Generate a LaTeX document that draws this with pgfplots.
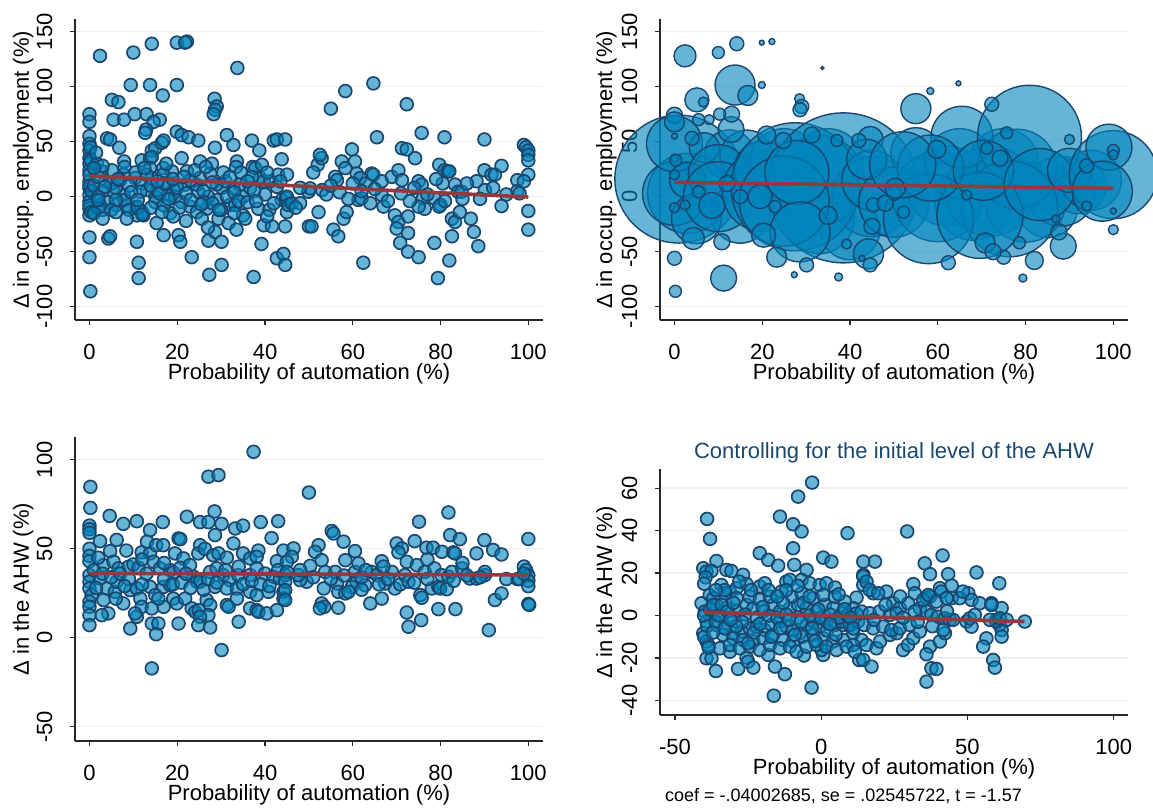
\documentclass[border=0pt]{standalone}
\usepackage{fontspec}
\setmainfont{Liberation Sans}
\usepackage{pgfplots}
\pgfplotsset{compat=1.18}

\definecolor{bubfill}{HTML}{0084BC}
\definecolor{bubedge}{HTML}{1A476F}
\definecolor{fitc}{HTML}{943A3F}
\definecolor{gridc}{HTML}{EAF1F3}
\definecolor{titc}{HTML}{1A476F}

\pgfplotsset{
  stata/.style={
    scale only axis, anchor=south west, clip=false, clip mode=individual,
    axis lines*=left,
    axis line style={line width=1.2pt, black!85},
    tick align=outside, major tick length=5pt,
    every tick/.style={line width=1.2pt, black!85},
    ymajorgrids, major grid style={line width=1.4pt, gridc},
    tick label style={font=\fontsize{22}{26}\selectfont},
    /pgf/number format/assume math mode=true,
    yticklabel style={xshift=-18pt, rotate=90, anchor=base, inner sep=0pt},
    xticklabel style={anchor=base, yshift=-34pt, inner sep=0pt},
    every axis x label/.style={at={(axis description cs:0.5,0)}, anchor=base, yshift=-59pt,
      font=\fontsize{22}{26}\selectfont},
    every axis y label/.style={at={(axis description cs:0,0.5)}, xshift=-46pt, rotate=90, anchor=base,
      font=\fontsize{22}{26}\selectfont},
  },
  dots/.style={only marks, mark=*, mark size=6.4pt,
    mark options={draw=bubedge, fill=bubfill, fill opacity=0.6, line width=1.7pt}},
  fit/.style={fitc, line width=3.6pt, no marks},
}

\begin{document}
\begin{tikzpicture}
\useasboundingbox (0,0) rectangle (1153pt,807pt);

% ---------- top left: employment vs automation
\begin{axis}[stata, at={(75pt,487pt)}, width=468pt, height=301pt,
  xmin=-3.3, xmax=103.35, ymin=-112.1, ymax=161.5,
  xtick={0,20,...,100}, ytick={-100,-50,...,150},
  xlabel={Probability of automation (\%)},
  ylabel={Δ in occup. employment (\%)}]
\addplot[dots] coordinates {
(0,75) (0,68) (0,55) (0,48) (0,42) (0,35) (0,30) (0,24) (0,14) (0,7.5) (0,1.5) (0,-4.5)
(0,-11) (0,-17) (0,-37) (0,-55) (0.2,-86) (0,20) (0,10) (0,-8) (0.3,33) (0.2,45) (0.5,5) (0.4,-14)
(1.7,30) (2.4,128) (2.8,23) (3.6,14) (2.4,-7.5) (4,53) (4.7,52) (5.1,88) (6.6,86) (5.5,70) (7.9,70)
(6.8,44.5) (7.9,32) (5.1,24) (7.8,20) (5.5,4.5) (7.8,1.5) (6.2,-7.5) (8.5,-8) (4.3,-38) (4.7,-36)
(10,131) (14.2,139) (19.9,140) (22.2,141) (21.8,140) (33.7,117) (9.4,101.5) (13.8,101.5) (19.9,101.5)
(16.7,92) (28.5,89) (29,82) (28.6,79) (28.3,75) (10.3,75) (13,75) (16,70) (14.6,68) (12.9,61) (12.7,58)
(11.9,33) (14.2,42) (15,44) (16.5,49) (16.9,51) (19.9,59) (21,56) (22.6,54) (24.8,51) (28.6,44.5)
(31.3,56) (32.8,47) (37,51) (38.7,42) (42,51) (42.7,52) (44.6,52) (43.8,34) (21,35) (25.2,32)
(27.9,30) (33.6,32) (33.4,27) (37.2,27) (37.8,26) (39.3,29) (13.8,35) (14.2,36) (13.8,26) (16.8,26)
(18.8,23) (10.4,17) (12,12) (10.8,-17) (12,-14) (15,0) (15.3,6) (18,1.5) (19.1,6) (22.2,23) (22.9,-9)
(24.5,-14) (26.7,-11) (25.6,-20) (29.4,-20) (31.7,-24) (32,-7.5) (35,-17) (35.5,-20) (38.5,-11)
(39.7,-26) (41.6,-27) (44.6,-27) (43.8,-3) (43,20) (38.9,17) (39.7,14) (41.2,14) (42.7,9) (35,0)
(36.6,8) (32.8,8) (34.3,11) (30.2,8) (29,-3) (27.1,0) (24.8,4.5) (24.4,11) (25.2,17) (27.5,21) (29,11)
(31.3,0) (33.2,-7.5) (21.8,11) (19.5,0) (18,12) (16.8,20) (14.2,17) (13.1,6) (11.6,4.5) (10.8,-9)
(12.3,-17) (18.4,-15) (19.1,-18) (15.3,-24) (16.9,-35) (20.3,-35) (20.7,-41) (23.3,-55) (27.1,-40)
(28.6,-32) (30.1,-41) (30.1,-62) (27.3,-71) (37.4,-73) (39.2,-43) (42.7,-56) (44.2,-52) (44.6,-62)
(10.8,-41) (11.2,-60) (11.2,-74) (44.8,-1.5) (45,-14) (45,20) (45,0) (45.3,-7.5)
(46.1,-6) (48,-6) (49.9,4.5) (50.3,7.5) (52.2,-14) (50,-27) (50.6,-27) (55.6,-30) (56.7,-36) (57.9,-20)
(58.6,-14) (55,80) (58.3,96) (64.7,103) (65.5,54) (72.3,84) (59.8,43) (52,29) (52.9,35) (52.5,38)
(56,18) (56.4,15) (57.5,32) (58.3,26) (60.5,32) (60.9,21) (61.7,17) (61.3,-3) (62,-1.5) (63,12)
(64.3,21) (64.7,20) (66.6,14) (67,-9) (66.6,1.5) (68.9,18) (70.4,24) (71.2,15) (69.6,-17) (70.4,-23)
(70,-29) (70.8,-42) (72.6,-50) (72.6,-33) (72.6,-18) (71.2,44) (72.3,43) (74.2,35) (75,-55) (75.7,58)
(75,14) (75.7,11) (76,-1.5) (76.4,-11) (75,-9) (78.6,-42) (79.4,-74) (79.7,29) (80.9,24) (81.6,23)
(82,23) (80.5,12) (78.6,-1.5) (80,-7.5) (79.7,-9) (80.9,54) (82.6,-20) (83.3,-23) (82.6,-36) (82,-58)
(83.3,11) (84,4.5) (84.8,4.5) (84.4,-14) (86.9,-20) (87.6,-32) (88.6,-45) (88.2,14) (90,24) (90.1,6)
(91.6,20) (92.4,20) (93.9,28) (90,52) (93.9,-8.5) (62.4,-60)
(97.5,15) (97.5,5) (99,47) (99.5,45) (100,42) (100,38) (100,33) (100,20) (100,-13) (100,-30) (98,3) (99,14)
(1,10) (2,18) (3,5) (4,-5) (2,-10) (3,-12) (5,12) (6,8) (7,15) (8,-3) (9,10) (9,-12) (1,-15) (2,0)
(3,28) (6,-3) (11,-10) (12,-16) (13,20) (14,10) (15,-5) (16,3) (17,-8) (17,12) (18,-2) (20,8) (21,-5)
(22,3) (23,15) (26,5) (26,-5) (28,-6) (30,-12) (31,14) (33,4) (34,-4) (36,-5) (37,18) (40,2) (41,-12)
(47,-10) (48,8) (51,22) (53,6) (54,2) (55,10) (57,4) (59,-2) (60,12) (62,5) (64,-6) (65,7) (68,-4)
(71,3) (73,-4) (74,8) (77,2) (79,16) (81,-4) (85,-2) (86,12) (89,-2) (92,8) (95,2)
(1,26) (1.5,40) (2,-3) (3.5,9) (5,-12) (6.5,16) (8,27) (9.5,4) (10.5,22) (11,-3) (12.5,26) (14,-10)
(15.5,14) (16.5,-14) (17.5,30) (19,16) (20.5,-10) (21.5,18) (23,-3) (24,24) (25.5,-7) (26.5,27)
(28,13) (29.5,-12) (30.5,22) (32,18) (33,-15) (34.5,22) (36,14) (37.5,5) (38,-4) (40.5,22) (42,-6)
(43.5,14) (6,-14) (3,-20) (8.5,-20) (22,-22) (27,-28) (33.5,-30) (40.5,-18)
};
\addplot[fit] coordinates {(0,18.8) (100,-0.3)};
\end{axis}

% ---------- top right: weighted
\begin{axis}[stata, at={(660pt,487pt)}, width=468pt, height=301pt,
  xmin=-3.3, xmax=103.35, ymin=-112.1, ymax=161.5,
  xtick={0,20,...,100}, ytick={-100,-50,...,150},
  every axis y label/.style={at={(axis description cs:0,0.5)}, xshift=-48pt, rotate=90, anchor=base,
    font=\fontsize{22}{26}\selectfont},
  xlabel={Probability of automation (\%)},
  ylabel={Δ in occup. employment (\%)}]
\addplot[scatter, only marks, mark=*,
  scatter/use mapped color={draw=bubedge, fill=bubfill, fill opacity=0.6},
  visualization depends on={\thisrow{r} \as \rr},
  scatter/@pre marker code/.append style={/tikz/mark size=\rr pt},
  mark options={line width=1.4pt}]
table[row sep=\\] {
x y r \\
1 16 64 \\ 3 3 40 \\ 0 3 32 \\ 0 48 28 \\ 12.5 38 25 \\ 16.5 36 27 \\ 6.8 44.5 15 \\ 3 15 18 \\
10 20 30 \\ 15 -15 30 \\ 5 -20 25 \\ 10 0 35 \\ 20 5 40 \\ 25 30 35 \\
13.8 101.5 20 \\ 2.4 128 11 \\ 14.2 139 7 \\ 10 131 6 \\ 5.1 88 12 \\ 6.6 86 5 \\
11.2 -74 13 \\ 0 -56 7 \\ 0.2 -86 6 \\ 4.3 -38 11 \\ 10.8 -41 8 \\
20 25 28 \\ 33 -20 35 \\ 35 30 35 \\ 40 -30 30 \\ 33 15 45 \\ 45 0 40 \\
27.5 9 64 \\ 38.5 8 75 \\ 25 -4 45 \\ 27.9 22 32 \\ 28.6 -32 30 \\
45 15 30 \\ 50 -5 35 \\ 55 40 25 \\ 62 10 40 \\ 68 -5 38 \\ 75 30 35 \\ 85 -10 30 \\ 92 10 28 \\
60 0 45 \\ 72 5 45 \\ 80 -5 40 \\ 88 5 35 \\ 95 15 30 \\ 65 30 35 \\ 78 25 40 \\
44.2 -52 15 \\ 44.6 52 13 \\ 43.8 34 20 \\ 37.4 -73 4 \\ 44.6 -62 7 \\ 33.7 117 1.5 \\
19.9 140 2.5 \\ 22.2 141 3 \\ 19.9 101.5 3.5 \\ 28.5 89 5 \\ 29 82 7 \\ 28.6 79 7 \\
55 80 15 \\ 58.3 96 3.5 \\ 64.7 103 2.5 \\ 65.5 54 31 \\ 80.9 54 52 \\ 76.4 -11 48 \\
57.9 -20 45 \\ 69.6 -17 43 \\ 58.3 26 33 \\ 70.4 24 30 \\ 52 29 33 \\ 83.3 11 36 \\ 90 24 22 \\
100 20 44 \\ 99 45 23 \\ 97.5 5 30 \\ 88.6 -45 13 \\ 87.6 -32 8 \\ 82 -58 9 \\ 79.4 -74 4 \\
75 -55 7 \\ 72.3 84 7 \\ 75.7 58 6 \\ 62.4 -60 7 \\ 90 52 5 \\ 50 3 7 \\ 45 -27 8 \\ 45.3 -7.5 7 \\
16.7 92 10 \\ 12.9 61 13 \\ 13 75 8 \\ 0 74 8 \\ 0 68 10 \\ 0 55 3 \\ 19.5 0 12 \\ 8.5 -8 13 \\
0 -10 5 \\ 20.3 -35 12 \\ 23.3 -55 10 \\ 30.1 -62 7 \\ 27.3 -71 3 \\
0 35 4 \\ 0 20 5 \\ 0.3 33 6 \\ 5.5 70 6 \\ 7.9 70 5 \\ 4 53 7 \\ 10.3 75 6 \\ 21 56 9 \\
24.8 51 8 \\ 42 51 7 \\ 37 51 6 \\ 31.3 56 8 \\ 22.9 -9 6 \\ 35 -17 9 \\ 39.2 -43 5 \\ 42.7 -56 3 \\
70.8 -42 10 \\ 72.6 -50 8 \\ 78.6 -42 6 \\ 86.9 -20 4 \\ 93.9 -8.5 5 \\ 100 -13 3 \\ 100 -30 5 \\
100 42 6 \\ 100 38 5 \\ 93.9 28 7 \\ 71.2 44 6 \\ 74.2 35 8 \\ 59.8 43 9 \\ 48 -6 8 \\ 52.2 -14 6 \\
66.6 1.5 5 \\ 50.3 7.5 10 \\ 15 0 7 \\ 12 12 8 \\ 5.5 4.5 6 \\ 2.4 -7.5 5 \\
};
\addplot[fit] coordinates {(0,13) (100,7.6)};
\end{axis}

% ---------- bottom left: AHW vs automation
\begin{axis}[stata, at={(75pt,66pt)}, width=468pt, height=304pt,
  xmin=-3.3, xmax=103.35, ymin=-58, ymax=112.8,
  xtick={0,20,...,100}, ytick={-50,0,50,100},
  xlabel={Probability of automation (\%)},
  ylabel={Δ in the AHW (\%)}]
\addplot[dots] coordinates {
(37.4,104.5) (27.1,90.5) (29.4,91.4) (0.2,84.8) (0.2,73) (0,63) (0,61) (0,59) (4.6,68.5) (7.7,64)
(10.8,65.5) (13.8,60.5) (16.7,65) (22.2,68) (25.2,65) (27.1,65) (28.5,71) (30.1,64) (28.6,57.7)
(33.2,61.4) (35,63) (39,65) (43,65.5) (41.5,56) (2.4,54.3) (6.2,55) (8.4,49) (4.7,48.7) (0,50) (0,46)
(0,43) (11.9,48) (13.8,47.4) (13.1,54) (15.2,52) (16.8,52) (20.3,55.8) (20.7,55.4) (19.5,47.4)
(21.4,44.6) (25.2,52) (24.8,47.4) (26.3,50) (28.2,46.4) (29.4,47.4) (31.3,45) (32.8,53) (35,47.4)
(36.6,44.6) (38.5,49) (38.1,45.5) (42.7,43) (44.2,49) (3.2,40.8) (5.5,42.7) (6.6,39) (8.9,39.9)
(10,41.2) (11.2,39.3) (14.6,42.7) (16.1,39) (18.4,38) (19.1,36.7) (20.7,39.3) (22.9,40.8) (23.7,34.3)
(24.5,31.5) (25.2,31.5) (27.5,37) (29,39) (30.5,35.2) (32,32.4) (33.9,35.2) (36.6,35.2) (38.1,39)
(40,36.1) (41.9,34.3) (43.4,33.3) (44.6,35.2) (0,35.2) (0,31.5) (0,27.7) (0.5,24) (0,20.2) (0,17.4)
(0,12.7) (0,7.1) (2.4,33.3) (4,27.7) (3.2,21.2) (4.3,13.7) (2.8,12.7) (5.8,25.8) (7.7,19.3) (6.2,31.5)
(9.3,26.8) (10.8,27.7) (11.6,22) (11.9,17.4) (10.8,11.8) (10.4,13.7) (9.3,5.2) (14.2,8) (15.7,8)
(15.2,2) (14.2,-17.2) (13.8,28.6) (15,24) (16.9,28.6) (18.4,29.6) (16.9,17.4) (15.7,22) (14.2,16.5)
(19.1,22) (19.9,19.3) (20.3,8) (21.8,22) (23.3,16.5) (24.1,14.6) (24.9,15.5) (26.7,21.2) (27.5,18.4)
(27.1,12.7) (25.2,11.8) (24.8,7.1) (27.5,5.8) (30.1,-6.9) (28.6,28.6) (31.3,27.7) (33.6,27.7)
(31.3,18.4) (31.7,17.4) (33.6,22) (34,9) (36.6,16.5) (38.1,15.5) (38.5,14.6) (40.4,13.7) (42.7,15.5)
(36.6,25.8) (38.1,24) (40.8,25.8) (44.2,25.8) (44.2,22)
(1,38) (2,45) (1.5,28) (3,36) (5,34) (7,36) (9,33) (12,30) (13,36) (17,33) (19,30) (21,31) (23,28)
(26,27) (27,33) (29,31) (31,38) (35,30) (37,32) (39,30) (41,29) (43,38) (8,29) (6,22) (22,36) (12,44)
(17,42) (34,40)
(50,81.6) (81.8,70.4) (75.1,65.2) (55.2,60) (55.6,58.6) (57.9,54) (60.5,48.7) (70,53) (71.2,50.2)
(70.4,48) (74.1,54.3) (76.8,50.6) (78.3,50.6) (80.3,48.3) (82.2,57.7) (84.4,55.4) (82.9,48) (83.3,47.4)
(90,54.9) (88.2,47.4) (92,49.3) (93.9,46.8) (46.5,50.2) (46.1,45.5) (45,42.7) (45,37) (52.2,52)
(51.4,48.3) (52.9,43.6) (50.3,40.4) (49.5,31.5) (48,32.4) (47.6,35.2) (56,37) (56.4,30.5) (53.4,27.7)
(53.7,37) (58.3,43.6) (60.5,37) (61.3,41.8) (60.9,31.5) (59.8,28.6) (62.8,29.6) (64.3,37) (66.6,43)
(65.5,35.2) (67.4,30.5) (64,19.3) (66.6,22) (56.7,25.8) (58.3,24.9) (59,25.8) (52.9,19.3) (53.5,17.4)
(52.5,16.5) (56.7,16.9) (68.9,37) (69.6,27.7) (70.8,30) (71.9,35.2) (72.7,31.5) (72.3,42.7) (74.6,40.8)
(72.3,14.2) (72.7,6.2) (75.6,9.9) (75.4,24) (75.7,22.5) (78,27.7) (79.5,28.6) (79.9,27.7) (81.4,27.3)
(76.4,37) (78.6,39) (80.2,35.2) (81.8,34.3) (82.6,37) (84.9,39) (79.5,16.1) (83.4,16.1) (86.7,33.3)
(88.2,33.3) (90.1,35.2) (90.1,37) (92.4,21.2) (93.9,24.9) (91,4.3) (44.6,31.5) (44.6,26.8) (44.6,21.2)
(97.5,33) (98,33) (99,40) (99.5,38) (100,55.5) (100,35) (100,32) (100,29) (100,19) (100.2,18.5) (99,36)
(48,38) (51,34) (55,33) (58,35) (62,34) (63,38) (66,30) (68,33) (74,31) (77,33) (83,32) (86,35) (89,34)
(95,33) (85,42) (77,44) (67,40) (62,27)
};
\addplot[fit] coordinates {(0,36.2) (100,35.3)};
\end{axis}

% ---------- bottom right: residualised
\begin{axis}[stata, at={(660pt,92pt)}, width=468pt, height=246pt,
  xmin=-55.1, xmax=104.9, ymin=-46.8, ymax=69,
  xtick={-50,0,50,100}, ytick={-40,-20,...,60},
  every axis y label/.style={at={(axis description cs:0,0.5)}, xshift=-48pt, rotate=90, anchor=base,
    font=\fontsize{22}{26}\selectfont},
  xlabel={Probability of automation (\%)},
  ylabel={Δ in the AHW (\%)}]
\addplot[dots] coordinates {
(-3.1,62.6) (-7.9,56) (-14.1,46.6) (-39,45.5) (-38,36.1) (-9.6,43) (-6.7,39.6) (-9.6,31.7) (9,38.8)
(-21,29.4) (-18.1,26.2) (-14.7,23.5) (-9.2,23.9) (-5,21.5) (0.7,27.3) (3.5,25.4) (-35.8,25.7)
(-40.3,22.3) (-39.2,20.7) (-37.5,21) (-32.4,21.5) (-30.7,21) (-26.7,19.2) (-34.1,14.4) (-31.2,11)
(-28.9,12.9) (-25.5,14.8) (-21,13.7) (-19.3,15.2) (-11.9,16) (-10.7,16.8) (-6.7,16.8) (-3.9,15.2)
(-0.5,14.4) (1.8,15.2) (4.7,13.2) (12.1,8.5) (14.4,14.4) (14.4,19.2) (14.4,25.4) (-40.9,5.8)
(-39.8,1.9) (-39.2,-2.8) (-38.1,9.7) (-36.9,8.2) (-40.3,-8.3) (-39.2,-12.2) (-38.6,-13.8) (-39.2,-20.1)
(-37.5,-20.1) (-36,-26.1) (-31.2,-17) (-28.4,-25.1) (-25.5,-19.8) (-25,-21.7) (-23.2,-24.5)
(-18.1,-18.5) (-15.8,-24) (-12.4,-27.6) (-16.2,-37.7) (-3.3,-33.9) (-5.9,-18.8) (0.7,-18.5) (0.1,-16.2)
(7.5,-4.4) (10.9,-8.3) (13.8,-11.5) (13,-20.9)
(-35.8,-4.4) (-32.9,-6) (-30.1,-8.3) (-27.2,-7.5) (-24.4,-6) (-22.1,-5.2) (-19.3,-6.8) (-17,-4.4)
(-14.1,-2.8) (-11.9,-5.2) (-9.6,-6.8) (-7.3,-8.3) (-5,-4.4) (-2.7,-2.8) (-0.5,-5.2) (1.8,-2.8)
(4.7,-4.4) (7,-2.8) (9.8,-4.4) (12.6,-2.8)
(-35.8,5) (-32.4,3.5) (-28.9,1.9) (-25.5,5) (-23.2,3.5) (-19.8,1.9) (-16.4,5) (-14.1,1.9) (-10.7,3.5)
(-7.9,5) (-5,3.5) (-1.6,1.9) (1.3,5) (4.1,3.5) (7.5,1.9) (10.9,3.5)
(-33.5,-9.1) (-30.1,-10.7) (-26.7,-11.5) (-23.2,-12.2) (-19.8,-10.7) (-16.4,-9.1) (-13,-11.5)
(-9.6,-12.2) (-6.2,-9.9) (-2.7,-9.1) (0.7,-10.7) (4.1,-12.2) (7.5,-11.5) (10.9,-13.8)
(-32.9,10.5) (-28.9,8.2) (-24.4,8.9) (-21,7.4) (-17.5,8.9) (-13.6,11.3) (-10.1,8.9) (-6.7,10.5)
(-2.7,8.2) (0.7,9.7) (4.7,8.9) (8.1,6.6)
(-34.6,-15.4) (-31.2,-13.8) (-27.8,-15.4) (-24.4,-14.6) (-21,-16.2) (-17.5,-13.8) (-14.1,-15.4)
(-10.7,-14.6) (-8.4,-17) (-5,-14.6) (-1.6,-13.8) (1.8,-14.6) (5.2,-16.2) (8.7,-14.6) (11.5,-17)
(-34,0) (-30,-1) (-26,0.5) (-22,-1) (-18,0) (-15,-1) (-12,0.5) (-8,-1) (-4,0) (0,-1) (3,0.5) (6,-1)
(9,0) (12,1)
(-40,0) (-39,-5) (-38,3) (-40,-10) (-38.5,-15) (-39.5,18) (-40,15) (-37,5) (-36,-3) (-35,0) (-34,5)
(-33,-6) (-32,2)
(-37,-8) (-33,12) (-30,6) (-27,-3) (-23,-8) (-20,4) (-17,-10) (-13,6) (-11,-2) (-9,-9) (-6,6) (-3,-6)
(-1,3) (2,-7) (5,-9) (8,3) (10,-1) (-29,-5) (-25,-13) (-21,-4) (-18,12) (-14,-6) (-12,12) (-7,-3)
(-4,9) (-2,-12) (3,-4) (6,10) (11,-6) (-36,12) (-31,-2) (-28,16) (-24,12) (-15,9) (-8,14)
(29.4,39.6) (41.5,28.3) (35.4,24.6) (37.2,19.5) (43.4,19.5) (53.1,20.3) (60.9,15.2) (31.5,14.8)
(32,10.5) (40.6,12.9) (41.1,11.3) (44.6,14.1) (44.6,8.2) (36,8.2) (37.2,8.9) (50.3,10.5) (51.4,7.4)
(54.2,5.8) (58.2,5.8) (61.7,3.5) (22.3,11.3) (17.8,10.5) (18.4,25.4) (24.6,5.8) (26.9,3.5) (29.7,5.8)
(33.7,3.5) (36,1.9) (37.7,0.3) (40,-0.5) (42.3,-1.3) (44,-2) (45.1,-2) (49.7,-2.8) (51.4,-5.2)
(50.8,-1.3) (52.5,0.3) (59.9,-2) (61,-4.4) (61.7,-6.8) (61.7,-9.9) (59.9,-2.8) (69.6,-2.8)
(56.5,-10.7) (55.4,-14.6) (58.8,-20.9) (59.4,-24.5) (37.2,-14.6) (36,-18.2) (37.7,-24.8) (39.4,-25.1)
(36,-31.1) (28,-16.2) (29.7,-13.8) (31.5,-10.7) (33.7,-7.5) (40.6,-12.2) (42.3,-8.3) (41.7,-6.8)
(15.5,-13.8) (18.9,-15.4) (14.4,-20.9) (17.2,-24) (20.1,-12.2) (23.5,-9.1) (25.8,-8.3) (13.8,1.9)
(16.6,1.1) (20,1.9) (23.5,0.3) (25.8,1.1) (14.7,-4.4) (17.8,-6) (21.2,-5.2) (24,-6.8) (26.9,-6)
(30.3,-4.4) (14.4,18.4) (15.5,16) (16.6,12.1) (19.5,10.5) (34.9,7.4) (36.6,9.7) (39.4,6.6) (42.9,8.2)
(47.4,8.2) (48.5,11.3) (57.7,-2) (61.1,-1.3) (63.4,-2) (58.2,5)
(18,-2) (22,5) (28,-1) (32,2) (38,-5) (43,2) (27,9) (33,-3)
};
\addplot[fit] coordinates {(-40,1.6) (69.5,-2.8)};
\end{axis}

\node[anchor=base, font=\fontsize{22}{26}\selectfont, text=titc] at (894pt,348.5pt)
  {Controlling for the initial level of the AHW};
\node[anchor=base west, font=\fontsize{18}{22}\selectfont, inner sep=0pt] at (665pt,6pt)
  {coef = -.04002685, se = .02545722, t = -1.57};
\end{tikzpicture}
\end{document}
